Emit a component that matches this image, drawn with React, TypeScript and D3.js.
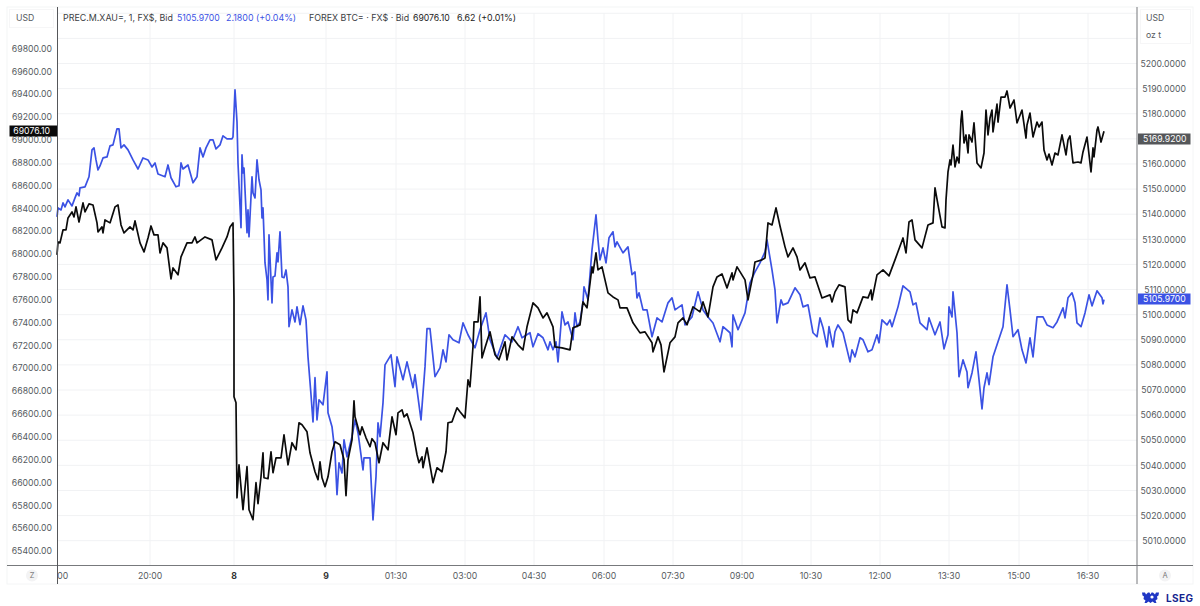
import React from 'react';
import * as d3 from 'd3';

type Bar = [number, number];

// [bar position along the compressed session axis, price]
const goldSeries: Bar[] = [[0,5138.9],[1,5142.5],[4,5141.7],[6,5144.5],[8,5142.9],[11,5145.7],[15,5143.3],[18,5146.5],[20,5148.5],[22,5147.3],[23,5150.5],[28,5150.9],[32,5154.9],[35,5165.6],[37,5166.4],[39,5161.6],[41,5157.6],[43,5159.2],[46,5162.4],[50,5162.8],[53,5167.2],[56,5167.6],[60,5174],[62,5174],[64,5166.4],[67,5167.6],[71,5165.6],[76,5161.6],[81,5158],[86,5162.4],[91,5161.6],[95,5158.8],[98,5160.4],[101,5156],[108,5154.9],[111,5159.6],[114,5154.5],[119,5150.9],[122,5151.3],[124,5160.4],[126,5158],[131,5159.6],[136,5152.5],[140,5154.9],[143,5166.4],[146,5162.8],[149,5166.4],[153,5169.6],[156,5169.6],[159,5166],[163,5167.6],[166,5171.2],[170,5170],[175,5170],[176,5170.8],[178,5189.5],[180,5176.7],[181,5160.4],[184,5134.6],[185,5163.6],[186,5156.4],[187,5158.4],[190,5132.6],[191,5141.7],[192,5131],[195,5154.9],[196,5148.5],[198,5146.5],[200,5161.6],[202,5153.7],[204,5149.7],[205,5138.5],[206,5142.5],[208,5120.6],[210,5113.9],[211,5105.9],[212,5131.8],[215,5104.7],[216,5115],[218,5115.4],[220,5124.6],[221,5121],[223,5133],[225,5115],[227,5114.7],[229,5117.8],[231,5111.1],[232,5095.2],[235,5101.9],[238,5097.1],[240,5103.1],[243,5096],[246,5103.5],[249,5097.9],[251,5083.2],[254,5068.1],[256,5057.3],[258,5074.9],[260,5058.1],[262,5066.1],[266,5064.1],[270,5077.2],[271,5060.9],[275,5055.4],[278,5045],[280,5028.3],[282,5041],[285,5037],[287,5050.2],[290,5043.4],[295,5051.4],[298,5058.1],[301,5053],[306,5038.2],[307,5043],[313,5043],[316,5018.3],[319,5035.5],[321,5056.9],[323,5051.4],[326,5064.9],[328,5080],[334,5084],[338,5071.3],[340,5083.2],[346,5074.1],[350,5081.2],[356,5070.9],[358,5076.1],[364,5058.1],[368,5079.2],[370,5094.4],[373,5094.4],[378,5075.3],[383,5078.8],[386,5086],[389,5081.2],[392,5092],[396,5090],[402,5088.8],[406,5096.7],[411,5092],[418,5086.8],[423,5094],[429,5100.7],[433,5090],[440,5082.8],[448,5092],[455,5089.2],[461,5095.2],[465,5090.8],[473,5092.8],[476,5087.2],[481,5092.4],[486,5090.8],[491,5086],[493,5089.2],[496,5086],[499,5089.2],[501,5081.2],[505,5101.1],[508,5095.9],[511,5097.1],[516,5090],[518,5100.7],[520,5095.2],[523,5097.1],[526,5105.1],[527,5111.1],[531,5105.9],[535,5125.8],[539,5139.7],[541,5129.8],[543,5121.8],[546,5126.6],[549,5120.6],[552,5130.6],[556,5133],[558,5127],[560,5129],[566,5124.6],[571,5127],[575,5115.9],[578,5117],[580,5106.7],[582,5108.7],[586,5101.9],[590,5101.9],[595,5091.2],[600,5098.7],[605,5097.1],[611,5104.7],[615,5106.7],[618,5101.9],[625,5103.9],[628,5095.9],[635,5099.1],[641,5109.1],[646,5101.9],[651,5099.1],[656,5096.7],[663,5089.2],[666,5095.2],[673,5092.8],[675,5087.2],[676,5099.9],[681,5094],[688,5100.7],[693,5112.7],[698,5117],[703,5120.6],[708,5125],[710,5129.8],[715,5117.8],[718,5109.9],[720,5096.7],[724,5105.9],[726,5103.9],[731,5104.7],[738,5110.7],[743,5107.9],[746,5103.1],[751,5103.9],[756,5092.8],[760,5091.2],[763,5098.7],[766,5094.8],[770,5087.2],[772,5095.2],[776,5087.2],[778,5093.2],[781,5095.9],[786,5092.8],[793,5081.2],[795,5086],[798,5083.2],[803,5090.8],[806,5090],[811,5085.2],[815,5086],[820,5092],[822,5088.8],[825,5097.9],[830,5095.9],[833,5097.9],[835,5095.2],[841,5103.1],[846,5111.5],[853,5109.1],[856,5103.9],[859,5104.7],[863,5096.7],[870,5094],[872,5098.7],[878,5092],[883,5097.1],[887,5086.4],[891,5092],[892,5103.1],[895,5099.1],[896,5109.1],[900,5092.8],[902,5075.3],[906,5082],[910,5077.2],[911,5070.9],[915,5076.8],[919,5085.2],[922,5074.1],[925,5062.5],[927,5070.9],[930,5076.8],[932,5072.1],[936,5083.2],[941,5089.2],[946,5095.2],[950,5111.9],[953,5101.9],[956,5091.2],[961,5094],[965,5086],[969,5080.8],[973,5090.8],[976,5083.2],[980,5099.1],[986,5099.1],[990,5095.9],[996,5094.8],[1000,5097.1],[1006,5102.7],[1008,5098.7],[1011,5106.7],[1015,5108.7],[1018,5104.7],[1020,5096.7],[1024,5095.2],[1028,5100.7],[1032,5107.9],[1035,5103.5],[1040,5109.5],[1045,5106.7],[1046,5104.3],[1047,5105.97]];

const btcSeries: Bar[] = [[0,67993],[1,68106],[3,68098],[6,68211],[9,68211],[11,68316],[15,68369],[17,68325],[19,68413],[22,68281],[26,68448],[28,68369],[32,68439],[36,68430],[40,68273],[41,68194],[45,68238],[46,68185],[48,68299],[53,68273],[58,68413],[61,68430],[64,68255],[67,68185],[73,68238],[76,68211],[78,68290],[83,68098],[87,68019],[91,68141],[94,68246],[97,68168],[101,68168],[103,68010],[106,68098],[110,68054],[114,67783],[116,67879],[121,67818],[124,67975],[130,68098],[135,68098],[138,68150],[140,68098],[148,68150],[155,68124],[159,67949],[165,68054],[170,68150],[173,68238],[176,68273],[177,67599],[177,66750],[179,66698],[180,65866],[182,66155],[186,65761],[190,66138],[192,65761],[196,65674],[199,65998],[201,65814],[204,66050],[206,66260],[207,66041],[211,66033],[214,66269],[216,66085],[219,66216],[224,66216],[227,66418],[231,66155],[235,66348],[239,66286],[242,66523],[245,66505],[250,66444],[253,66260],[258,66094],[261,66024],[263,66181],[265,66041],[268,65963],[271,66050],[275,66269],[278,66356],[283,66330],[287,66199],[289,65884],[291,66199],[295,66374],[297,66715],[298,66575],[303,66418],[305,66488],[309,66391],[313,66313],[315,66383],[318,66348],[322,66173],[326,66348],[331,66286],[335,66575],[339,66418],[341,66610],[345,66636],[347,66575],[350,66601],[356,66435],[360,66243],[362,66173],[365,66225],[366,66129],[370,66304],[376,65998],[380,66129],[385,66094],[389,66269],[391,66523],[395,66531],[400,66654],[403,66619],[408,66566],[411,66899],[413,66838],[416,67188],[417,67406],[421,67406],[423,67625],[425,67091],[428,67179],[433,67319],[438,67118],[442,67074],[448,67231],[450,67074],[455,67275],[461,67205],[466,67161],[470,67363],[476,67573],[481,67529],[486,67441],[490,67485],[496,67363],[498,67188],[505,67179],[513,67161],[516,67354],[523,67380],[526,67581],[530,67529],[535,67888],[536,67835],[539,68010],[541,67861],[545,67888],[551,67660],[556,67625],[561,67599],[563,67529],[570,67529],[576,67398],[583,67310],[588,67319],[595,67223],[596,67144],[601,67275],[604,67205],[607,66969],[613,67223],[618,67275],[621,67398],[626,67441],[630,67380],[636,67538],[643,67494],[646,67581],[651,67450],[656,67713],[660,67800],[665,67826],[670,67704],[675,67835],[676,67774],[680,67888],[688,67774],[691,67599],[696,67818],[698,67931],[705,67949],[708,67966],[711,68273],[715,68255],[719,68404],[723,68246],[728,68063],[731,67975],[736,68054],[740,67975],[743,67861],[748,67923],[753,67791],[758,67800],[765,67616],[773,67643],[775,67581],[778,67669],[782,67730],[788,67713],[791,67424],[794,67398],[796,67511],[800,67485],[806,67625],[811,67616],[814,67686],[815,67599],[820,67818],[826,67861],[832,67809],[838,67949],[846,68141],[849,68010],[852,68281],[855,68299],[858,68124],[865,68054],[871,68255],[876,68273],[878,68579],[881,68430],[885,68238],[888,68229],[889,68474],[891,68719],[893,68824],[894,68780],[896,68955],[898,68763],[900,68850],[902,68798],[904,69174],[905,69253],[907,68973],[909,69043],[911,68885],[912,69043],[915,68981],[917,69148],[920,68798],[924,68754],[927,68885],[929,69261],[931,69043],[933,69191],[935,69261],[936,69069],[940,69314],[941,69156],[944,69375],[948,69375],[950,69428],[953,69279],[957,69349],[960,69148],[965,69261],[969,69016],[970,69130],[973,69235],[976,69025],[980,69156],[982,69113],[985,69156],[987,68911],[990,68824],[992,68876],[995,68780],[998,68885],[1001,68868],[1005,69043],[1009,68868],[1011,68999],[1013,69034],[1016,68798],[1021,68806],[1024,68798],[1026,68894],[1030,69025],[1034,68719],[1036,68929],[1037,68850],[1040,69086],[1041,69113],[1044,68981],[1047,69076]];

const usdTicks = d3.range(65400, 69801, 200);
// 5170 sits behind the last-price tag in the original
const ozTicks = d3.range(5010, 5201, 10).filter((d) => d !== 5170);
const gridLevels = d3.range(5010, 5221, 10);
const timeLabels = ['18:00', '20:00', '8', '9', '01:30', '03:00', '04:30', '06:00', '07:30', '09:00', '10:30', '12:00', '13:30', '15:00', '16:30'];
const timeBars = [0, 93, 177, 269, 339, 408, 477, 547, 616, 685, 754, 823, 892, 962, 1031];
const dayLabels = ['8', '9'];

const W = 1200;
const H = 606;
const plotL = 57.5;
const plotR = 1137;
const plotB = 565.5;
const frameT = 7;
const frameB = 584;
const frameL = 7;
const frameR = 1193;

const x = d3.scaleLinear().domain([0, 1048]).range([57, 1105]);
const yUsd = d3.scaleLinear().domain([65400, 69800]).range([551, 48.5]);
const yOz = d3.scaleLinear().domain([5010, 5200]).range([540.7, 63.5]);

const BLUE = '#3b52e4';
const TEXT = '#555a60';
const GRID = '#f1f2f4';
const AXIS_FONT = 8.7;

const lineFor = (data: Bar[], y: d3.ScaleLinear<number, number>) =>
  d3.line<Bar>().x((d) => x(d[0])).y((d) => y(d[1]))(data) as string;

const Tag = ({ x0, x1, cy, fill, label, tx }: { x0: number; x1: number; cy: number; fill: string; label: string; tx: number }) => (
  <g>
    <rect x={x0} y={cy - 5.5} width={x1 - x0} height={11} fill={fill} />
    <text x={tx} y={cy + 3.2} fill="#fff" fontSize={AXIS_FONT}>{label}</text>
  </g>
);

export default function App() {
  return (
    <svg
      width={W}
      height={H}
      viewBox={`0 0 ${W} ${H}`}
      style={{ position: 'absolute', left: 0, top: 0, display: 'block', background: '#fff', fontFamily: 'Inter, sans-serif' }}
    >
      <defs>
        <clipPath id="plot">
          <rect x={plotL} y={frameT} width={plotR - plotL} height={frameB - frameT} />
        </clipPath>
      </defs>

      {/* outer frame */}
      <rect x={frameL} y={frameT} width={frameR - frameL} height={frameB - frameT} fill="none" stroke="#f4f5f6" />
      <rect x={9.5} y={9.5} width={44} height={18} fill="none" stroke="#f6f6f7" />
      <rect x={1140.5} y={9.5} width={50} height={34} fill="none" stroke="#f6f6f7" />

      {/* grid */}
      {gridLevels.map((d) => (
        <line key={d} x1={plotL} x2={plotR} y1={yOz(d)} y2={yOz(d)} stroke={GRID} />
      ))}
      {timeBars.slice(1).map((d) => (
        <line key={d} x1={x(d)} x2={x(d)} y1={13} y2={plotB} stroke={GRID} />
      ))}

      {/* series */}
      <path d={lineFor(goldSeries, yOz)} fill="none" stroke={BLUE} strokeWidth={1.7} strokeLinejoin="round" />
      <path d={lineFor(btcSeries, yUsd)} fill="none" stroke="#0b0b0b" strokeWidth={1.7} strokeLinejoin="round" />

      {/* axis lines */}
      <line x1={frameL} x2={frameR} y1={plotB} y2={plotB} stroke="#77797c" strokeWidth={1} />
      <line x1={plotL} x2={plotL} y1={frameT} y2={frameB} stroke="#55575a" strokeWidth={1} />
      <line x1={plotR} x2={plotR} y1={frameT} y2={frameB} stroke="#77797c" strokeWidth={1} />

      {/* left axis */}
      <text x={16} y={21.3} fontSize={AXIS_FONT} fill={TEXT}>USD</text>
      {usdTicks.map((d) => (
        <text key={d} x={52} y={yUsd(d) + 3.2} textAnchor="end" fontSize={AXIS_FONT} fill={TEXT}>{d3.format('.2f')(d)}</text>
      ))}
      <Tag x0={9.5} x1={57} cy={131} fill="#0a0a0a" label="69076.10" tx={13.3} />

      {/* right axis */}
      <text x={1146} y={21.3} fontSize={AXIS_FONT} fill={TEXT}>USD</text>
      <text x={1146} y={38.3} fontSize={AXIS_FONT} fill={TEXT}>oz t</text>
      {ozTicks.map((d) => (
        <text key={d} x={1186} y={yOz(d) + 3.2} textAnchor="end" fontSize={AXIS_FONT} fill={TEXT}>{d3.format('.4f')(d)}</text>
      ))}
      <Tag x0={1138} x1={1190.5} cy={139} fill="#55575a" label="5169.9200" tx={1143} />
      <Tag x0={1138} x1={1190.5} cy={299} fill={BLUE} label="5105.9700" tx={1143} />

      {/* time axis */}
      <g clipPath="url(#plot)">
        {timeLabels.map((d, i) => (
          <text
            key={d}
            x={x(timeBars[i])}
            y={578.5}
            textAnchor="middle"
            fontSize={8.7}
            fontWeight={dayLabels.includes(d) ? 700 : 400}
            fill={dayLabels.includes(d) ? '#333' : TEXT}
          >
            {d}
          </text>
        ))}
      </g>
      <circle cx={32} cy={575.5} r={6} fill="#f3f3f4" />
      <text x={32} y={578.3} textAnchor="middle" fontSize={7.5} fill="#777">Z</text>
      <circle cx={1165} cy={575.5} r={6} fill="#f3f3f4" />
      <text x={1165} y={578.3} textAnchor="middle" fontSize={7.5} fill="#777">A</text>

      {/* legend */}
      <g>
        <text x={63} y={21.3} fill="#3a3d42" fontSize={8.9}>PREC.M.XAU=, 1, FX$, Bid</text>
        <text x={177} y={21.3} fill={BLUE} fontSize={8.7}>5105.9700</text>
        <text x={226} y={21.3} fill={BLUE} fontSize={8.9}>2.1800 (+0.04%)</text>
        <text x={309} y={21.3} fill="#3a3d42" fontSize={8.9}>FOREX BTC= · FX$ · Bid</text>
        <text x={413} y={21.3} fill="#222" fontSize={8.7}>69076.10</text>
        <text x={457} y={21.3} fill="#222" fontSize={8.9}>6.62 (+0.01%)</text>
      </g>

      {/* logo */}
      <g fill="#1f36c4">
        <path d="M1142 592.5h3l1 2 2-2h1.5l1 2 1-2h1.5l2 2 1-2h3l-.5 3-1.5 1 .5 2.5-2 1.5 1 2.5h-2l-2-1.5-2 1.5-2-1.5-2 1.5h-2l1-2.5-2-1.5.5-2.5-1.5-1z" />
      </g>
      <circle cx={1152} cy={597} r={1.6} fill="#fff" />
      <text x={1166} y={602} fontSize={10} fontWeight={700} fill="#14238f" letterSpacing={0.4}>LSEG</text>
    </svg>
  );
}
